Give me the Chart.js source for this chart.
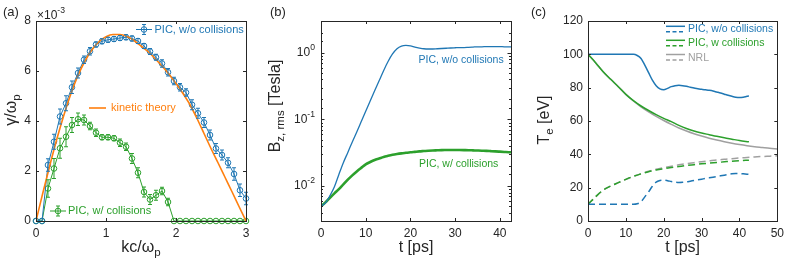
<!DOCTYPE html>
<html>
<head>
<meta charset="utf-8">
<script src="https://cdn.jsdelivr.net/npm/chart.js@4.4.0/dist/chart.umd.min.js"></script>
<style>
html, body { margin: 0; padding: 0; background: #fff; }
#wrap { position: relative; width: 789px; height: 268px; }
#wrap canvas { position: absolute; left: 0; top: 0; }
</style>
</head>
<body>
<div id="wrap">
  <canvas id="chartA" width="789" height="268"></canvas>
  <canvas id="chartB" width="789" height="268"></canvas>
  <canvas id="chartC" width="789" height="268"></canvas>
</div>
<script>
// ---- (a) growth rate, units of 1e-3 ----
const kPIC = [0, 0.086, 0.171, 0.257, 0.343, 0.429, 0.514, 0.6, 0.686, 0.771, 0.857, 0.943,
  1.029, 1.114, 1.2, 1.286, 1.371, 1.457, 1.543, 1.629, 1.714, 1.8, 1.886, 1.971,
  2.057, 2.143, 2.229, 2.314, 2.4, 2.486, 2.571, 2.657, 2.743, 2.829, 2.914, 3.0];
const gammaNoColl = [0, 0, 2.24, 3.17, 4.18, 4.71, 5.35, 5.92, 6.45, 6.79, 7.06, 7.19,
  7.25, 7.28, 7.32, 7.35, 7.3, 7.2, 7.0, 6.78, 6.55, 6.3, 5.95, 5.6,
  5.35, 5.14, 4.65, 4.31, 3.94, 3.44, 2.9, 2.64, 2.33, 1.88, 1.23, 0.9];
const errNoColl = [0, 0, 0.25, 0.3, 0.3, 0.3, 0.25, 0.2, 0.15, 0.15, 0.1, 0.1,
  0.1, 0.1, 0.1, 0.1, 0.1, 0.1, 0.1, 0.12, 0.12, 0.15, 0.15, 0.15,
  0.15, 0.15, 0.2, 0.2, 0.2, 0.2, 0.2, 0.2, 0.2, 0.25, 0.25, 0.25];
const gammaColl = [0, 0, 1.3, 2.1, 2.91, 3.37, 3.84, 4.07, 4.04, 3.8, 3.53, 3.35,
  3.35, 3.31, 3.13, 2.97, 2.5, 1.93, 1.16, 0.86, 1.03, 1.2, 0.76, 0,
  0, 0, 0, 0, 0, 0, 0, 0, 0, 0, 0, 0];
const errColl = [0, 0, 0.35, 0.4, 0.4, 0.4, 0.3, 0.25, 0.2, 0.15, 0.15, 0.1,
  0.1, 0.1, 0.15, 0.15, 0.2, 0.2, 0.2, 0.2, 0.2, 0.15, 0.15, 0,
  0, 0, 0, 0, 0, 0, 0, 0, 0, 0, 0, 0];
const kTheory = [0, 0.1, 0.2, 0.3, 0.4, 0.5, 0.6, 0.7, 0.8, 0.9, 1.0, 1.1, 1.2, 1.3, 1.4, 1.5,
  1.6, 1.7, 1.8, 1.9, 2.0, 2.1, 2.2, 2.3, 2.4, 2.5, 2.6, 2.7, 2.8, 2.9, 3.0];
const gammaTheory = [0, 1.15, 2.25, 3.3, 4.25, 5.1, 5.82, 6.4, 6.85, 7.17, 7.37, 7.46, 7.46, 7.38, 7.22, 7.0,
  6.78, 6.5, 6.2, 5.87, 5.5, 5.1, 4.65, 4.1, 3.5, 2.9, 2.33, 1.75, 1.17, 0.58, 0];

// ---- (b) B_z,rms [Tesla] ----
const tB = [0, 1, 2, 3, 4, 5, 6, 7, 8, 9, 10, 11, 12, 13, 14, 15, 16, 17, 18, 19, 20, 21,
  22, 23, 24, 25, 26, 27, 28, 29, 30, 31, 32, 33, 34, 35, 36, 37, 38, 39, 40, 41, 42, 42.5];
const bNoColl = [0.005, 0.0056, 0.0072, 0.0098, 0.015, 0.0225, 0.032, 0.046, 0.065, 0.093, 0.133,
  0.19, 0.27, 0.38, 0.54, 0.74, 0.96, 1.15, 1.26, 1.29, 1.27, 1.22, 1.18, 1.15, 1.14, 1.14,
  1.15, 1.16, 1.17, 1.18, 1.19, 1.2, 1.2, 1.21, 1.22, 1.23, 1.23, 1.24, 1.24, 1.24, 1.24,
  1.23, 1.23, 1.23];
const bColl = [0.005, 0.0057, 0.0067, 0.0078, 0.009, 0.0106, 0.0125, 0.0145, 0.0166, 0.0188, 0.0212,
  0.023, 0.0247, 0.026, 0.0274, 0.0285, 0.0295, 0.0303, 0.031, 0.0316, 0.0322, 0.0327, 0.0332,
  0.0336, 0.034, 0.0343, 0.0345, 0.0347, 0.0348, 0.0349, 0.0349, 0.0348, 0.0347, 0.0346, 0.0344,
  0.0342, 0.034, 0.0338, 0.0335, 0.0332, 0.0329, 0.0326, 0.0323, 0.0322];
const bLogTicks = [0.01, 0.1, 1];
const bLogTickSup = ['-2', '-1', '0'];

// ---- (c) temperatures [eV] ----
const tPIC = tB;
const teNoColl = [100, 100, 100, 100, 100, 100, 100, 100, 100, 100, 100, 100, 100, 99.3, 97.5, 93.5,
  89, 84.5, 81.2, 79.3, 78.8, 79.6, 80.6, 81.2, 81.4, 81.2, 80.8, 80.3, 79.8, 79.4, 79, 78.7,
  78.4, 78, 77.4, 76.8, 76.1, 75.4, 74.8, 74.3, 74.1, 74.3, 74.8, 75];
const tiNoColl = [10, 10, 10, 10, 10, 10, 10, 10, 10, 10, 10, 10, 10, 10.3, 11.5, 14.5,
  17.5, 20.8, 23.3, 24.3, 24.5, 24.2, 23.7, 23.3, 23.1, 23.2, 23.5, 23.9, 24.3, 24.7, 25.1, 25.5,
  25.9, 26.3, 26.7, 27.1, 27.5, 27.9, 28.3, 28.5, 28.5, 28.3, 28.1, 28];
const tColl = [0, 2, 4, 6, 8, 10, 12, 14, 16, 18, 20, 22, 24, 26, 28, 30, 32, 34, 36, 38, 40, 42.5];
const teColl = [100, 95, 89.6, 85, 80.6, 76, 72.2, 69, 66.3, 63.8, 61.6, 59.6, 57.4, 55.5, 54, 52.8,
  51.8, 50.8, 49.9, 49.1, 48.3, 47.5];
const tiColl = [10, 14.5, 18.5, 21, 23, 25, 26.8, 28.3, 29.6, 30.6, 31.4, 32.1, 32.7, 33.3, 33.8, 34.3,
  34.7, 35.1, 35.5, 35.9, 36.2, 36.5];
const tNRL = [0, 2, 4, 6, 8, 10, 12, 14, 16, 18, 20, 22, 24, 26, 28, 30, 32, 34, 36, 38, 40, 42, 44, 46, 48, 50];
const teNRL = [100, 95, 89.6, 85, 80.6, 76, 72, 68.5, 65.5, 62.8, 60.3, 58, 55.8, 54, 52.4, 51, 49.7,
  48.6, 47.6, 46.7, 45.9, 45.2, 44.6, 44.1, 43.6, 43.2];
const tiNRL = [10, 14.5, 18.5, 21, 23, 25, 26.8, 28.4, 29.8, 31, 32, 32.9, 33.7, 34.4, 35, 35.6, 36.1,
  36.6, 37, 37.4, 37.8, 38.1, 38.4, 38.7, 38.9, 39.1];

const BLUE = '#1f77b4', ORANGE = '#ff7f0e', GREEN = '#2ca02c', GRAY = '#a0a0a0';
const AXIS = '#262626';
const FONT = "'Liberation Sans', Arial, Helvetica, sans-serif";
const TITLE = 16;

function pts(xs, ys) { return xs.map((x, i) => ({ x: x, y: ys[i] })); }

function richText(ctx, parts, x, y, size, color, align, rotate) {
  const small = size * 0.72;
  let total = 0;
  const items = parts.map(p => {
    const fs = p[1] ? small : size;
    ctx.font = fs + 'px ' + FONT;
    const w = ctx.measureText(p[0]).width;
    total += w;
    return { t: p[0], fs: fs, w: w, dy: p[1] === 'sub' ? size * 0.32 : p[1] === 'sup' ? -size * 0.42 : 0 };
  });
  ctx.save();
  ctx.translate(x, y);
  if (rotate) ctx.rotate(-Math.PI / 2);
  let cx = align === 'center' ? -total / 2 : align === 'right' ? -total : 0;
  ctx.fillStyle = color;
  ctx.textBaseline = 'middle';
  ctx.textAlign = 'left';
  items.forEach(it => {
    ctx.font = it.fs + 'px ' + FONT;
    ctx.fillText(it.t, cx, it.dy);
    cx += it.w;
  });
  ctx.restore();
}

// box around the axes with inward ticks on all four sides
const boxTicks = {
  id: 'boxTicks',
  afterDraw(chart) {
    const ctx = chart.ctx, a = chart.chartArea;
    ctx.save();
    ctx.strokeStyle = AXIS;
    ctx.lineWidth = 1;
    Object.values(chart.scales).forEach(s => {
      const isLog = s.type === 'logarithmic';
      s.ticks.forEach(t => {
        let len = 3;
        if (isLog) {
          const l = Math.log10(t.value);
          len = Math.abs(l - Math.round(l)) < 1e-6 ? 3.5 : 2;
        }
        const p = Math.round(s.getPixelForValue(t.value)) + 0.5;
        ctx.beginPath();
        if (s.isHorizontal()) {
          ctx.moveTo(p, a.bottom); ctx.lineTo(p, a.bottom - len);
          ctx.moveTo(p, a.top); ctx.lineTo(p, a.top + len);
        } else {
          ctx.moveTo(a.left, p); ctx.lineTo(a.left + len, p);
          ctx.moveTo(a.right, p); ctx.lineTo(a.right - len, p);
        }
        ctx.stroke();
      });
    });
    ctx.strokeRect(Math.round(a.left) + 0.5, Math.round(a.top) + 0.5,
      Math.round(a.right - a.left), Math.round(a.bottom - a.top));
    ctx.restore();
  }
};

// vertical error bars with caps for datasets that carry an "errors" array
const errorBars = {
  id: 'errorBars',
  afterDatasetsDraw(chart) {
    const ctx = chart.ctx, ys = chart.scales.y;
    chart.data.datasets.forEach((ds, i) => {
      if (!ds.errors) return;
      const meta = chart.getDatasetMeta(i);
      ctx.save();
      ctx.strokeStyle = ds.borderColor;
      ctx.lineWidth = 1;
      meta.data.forEach((pt, j) => {
        const e = ds.errors[j];
        if (!e) return;
        const v = ds.data[j].y;
        const y1 = ys.getPixelForValue(v - e), y2 = ys.getPixelForValue(v + e);
        ctx.beginPath();
        ctx.moveTo(pt.x, y1); ctx.lineTo(pt.x, y2);
        ctx.moveTo(pt.x - 2, y1); ctx.lineTo(pt.x + 2, y1);
        ctx.moveTo(pt.x - 2, y2); ctx.lineTo(pt.x + 2, y2);
        ctx.stroke();
      });
      ctx.restore();
    });
  }
};

function notes(draw) { return { id: 'notes', afterDraw(chart) { draw(chart.ctx, chart); } }; }

function linAxis(min, max, step, fitKey, fitVal) {
  return {
    type: 'linear', min: min, max: max,
    grid: { display: false, drawTicks: false },
    border: { display: false },
    ticks: { stepSize: step, includeBounds: false, autoSkip: false, maxRotation: 0, padding: 5,
      color: AXIS, font: { family: FONT, size: 12 } },
    afterFit(s) { s[fitKey] = fitVal; }
  };
}

function baseOptions(padding, scales) {
  return {
    responsive: false, animation: false, events: [],
    layout: { padding: padding },
    plugins: { legend: { display: false }, tooltip: { enabled: false } },
    scales: scales
  };
}

function lineSet(xs, ys, color, width, dash) {
  return { data: pts(xs, ys), showLine: true, borderColor: color, borderWidth: width,
    borderDash: dash || [], pointRadius: 0, cubicInterpolationMode: 'monotone', fill: false };
}

function legendLine(ctx, x1, x2, y, color, width, dash) {
  ctx.save();
  ctx.strokeStyle = color; ctx.lineWidth = width; ctx.setLineDash(dash || []);
  ctx.beginPath(); ctx.moveTo(x1, y); ctx.lineTo(x2, y); ctx.stroke();
  ctx.restore();
}

function legendMarker(ctx, x1, x2, y, color) {
  legendLine(ctx, x1, x2, y, color, 1);
  const cx = (x1 + x2) / 2;
  ctx.save();
  ctx.strokeStyle = color; ctx.lineWidth = 1;
  ctx.beginPath(); ctx.arc(cx, y, 2.8, 0, Math.PI * 2); ctx.stroke();
  ctx.beginPath();
  ctx.moveTo(cx, y - 5); ctx.lineTo(cx, y + 5);
  ctx.moveTo(cx - 2, y - 5); ctx.lineTo(cx + 2, y - 5);
  ctx.moveTo(cx - 2, y + 5); ctx.lineTo(cx + 2, y + 5);
  ctx.stroke();
  ctx.restore();
}

function label(ctx, text, x, y, size, color) {
  ctx.save();
  ctx.font = size + 'px ' + FONT;
  ctx.fillStyle = color; ctx.textBaseline = 'middle'; ctx.textAlign = 'left';
  ctx.fillText(text, x, y);
  ctx.restore();
}

// ---- panel (a) ----
new Chart(document.getElementById('chartA'), {
  type: 'scatter',
  data: {
    datasets: [
      lineSet(kTheory, gammaTheory, ORANGE, 1.6),
      { data: pts(kPIC, gammaNoColl), errors: errNoColl, showLine: true, borderColor: BLUE, borderWidth: 1,
        pointRadius: 2.8, pointBorderWidth: 1, pointBorderColor: BLUE, pointBackgroundColor: 'rgba(0,0,0,0)', clip: false },
      { data: pts(kPIC, gammaColl), errors: errColl, showLine: true, borderColor: GREEN, borderWidth: 1,
        pointRadius: 2.8, pointBorderWidth: 1, pointBorderColor: GREEN, pointBackgroundColor: 'rgba(0,0,0,0)', clip: false }
    ]
  },
  options: baseOptions({ left: 0, right: 543, top: 21, bottom: 0 }, {
    x: linAxis(0, 3, 1, 'height', 47),
    y: linAxis(0, 8, 2, 'width', 36)
  }),
  plugins: [boxTicks, errorBars, notes((ctx, chart) => {
    const a = chart.chartArea;
    label(ctx, '(a)', 3, 12, 13, AXIS);
    richText(ctx, [['\u00d710'], ['-3', 'sup']], 37, 16, 12, AXIS, 'left');
    richText(ctx, [['\u03b3/\u03c9'], ['p', 'sub']], 12, 110, TITLE, AXIS, 'center', true);
    richText(ctx, [['kc/\u03c9'], ['p', 'sub']], (a.left + a.right) / 2, 248, TITLE, AXIS, 'center');
    legendMarker(ctx, 136, 152, 29.5, BLUE);
    label(ctx, 'PIC, w/o collisions', 154.5, 29.5, 11, BLUE);
    legendLine(ctx, 89, 106, 108, ORANGE, 1.6);
    label(ctx, 'kinetic theory', 111, 108, 11, ORANGE);
    legendMarker(ctx, 50, 66, 211, GREEN);
    label(ctx, 'PIC, w/ collisions', 68, 211, 11, GREEN);
  })]
});

// ---- panel (b) ----
const yB = {
  type: 'logarithmic', min: 0.003, max: 3,
  grid: { display: false, drawTicks: false },
  border: { display: false },
  ticks: { display: false, autoSkip: false },
  afterFit(s) { s.width = 50; }
};
new Chart(document.getElementById('chartB'), {
  type: 'scatter',
  data: {
    datasets: [
      lineSet(tB, bNoColl, BLUE, 1.3),
      lineSet(tB, bColl, GREEN, 2.6)
    ]
  },
  options: baseOptions({ left: 271, right: 278, top: 21, bottom: 0 }, {
    x: linAxis(0, 42.5, 10, 'height', 47),
    y: yB
  }),
  plugins: [boxTicks, notes((ctx, chart) => {
    const a = chart.chartArea, s = chart.scales.y;
    label(ctx, '(b)', 270, 12, 13, AXIS);
    bLogTicks.forEach((v, i) => {
      richText(ctx, [['10'], [bLogTickSup[i], 'sup']], a.left - 6, s.getPixelForValue(v), 12, AXIS, 'right');
    });
    richText(ctx, [['B'], ['z, rms', 'sub'], [' [Tesla]']], 276, 106, TITLE, AXIS, 'center', true);
    richText(ctx, [['t [ps]']], (a.left + a.right) / 2, 248, TITLE, AXIS, 'center');
    label(ctx, 'PIC, w/o collisions', 418.5, 60.5, 10.5, BLUE);
    label(ctx, 'PIC, w/ collisions', 419, 164.5, 10.5, GREEN);
  })]
});

// ---- panel (c) ----
new Chart(document.getElementById('chartC'), {
  type: 'scatter',
  data: {
    datasets: [
      lineSet(tPIC, teNoColl, BLUE, 1.5),
      lineSet(tPIC, tiNoColl, BLUE, 1.5, [7, 4]),
      lineSet(tColl, teColl, GREEN, 1.5),
      lineSet(tColl, tiColl, GREEN, 1.5, [7, 4]),
      lineSet(tNRL, teNRL, GRAY, 1.5),
      lineSet(tNRL, tiNRL, GRAY, 1.5, [7, 4])
    ]
  },
  options: baseOptions({ left: 538, right: 9, top: 21, bottom: 0 }, {
    x: linAxis(0, 50, 10, 'height', 47),
    y: linAxis(0, 120, 20, 'width', 50)
  }),
  plugins: [boxTicks, notes((ctx, chart) => {
    const a = chart.chartArea;
    label(ctx, '(c)', 531, 12, 13, AXIS);
    richText(ctx, [['T'], ['e', 'sub'], [' [eV]']], 545, 120, TITLE, AXIS, 'center', true);
    richText(ctx, [['t [ps]']], (a.left + a.right) / 2, 248, TITLE, AXIS, 'center');
    const rows = [[BLUE, 'PIC, w/o collisions', 29.5], [GREEN, 'PIC, w collisions', 43.5], [GRAY, 'NRL', 57.7]];
    rows.forEach(r => {
      legendLine(ctx, 666, 685, r[2] - 3.2, r[0], 1.5);
      legendLine(ctx, 666, 685, r[2] + 2.2, r[0], 1.5, [4, 2.5]);
      label(ctx, r[1], 688, r[2], 10.5, r[0]);
    });
  })]
});
</script>
</body>
</html>
